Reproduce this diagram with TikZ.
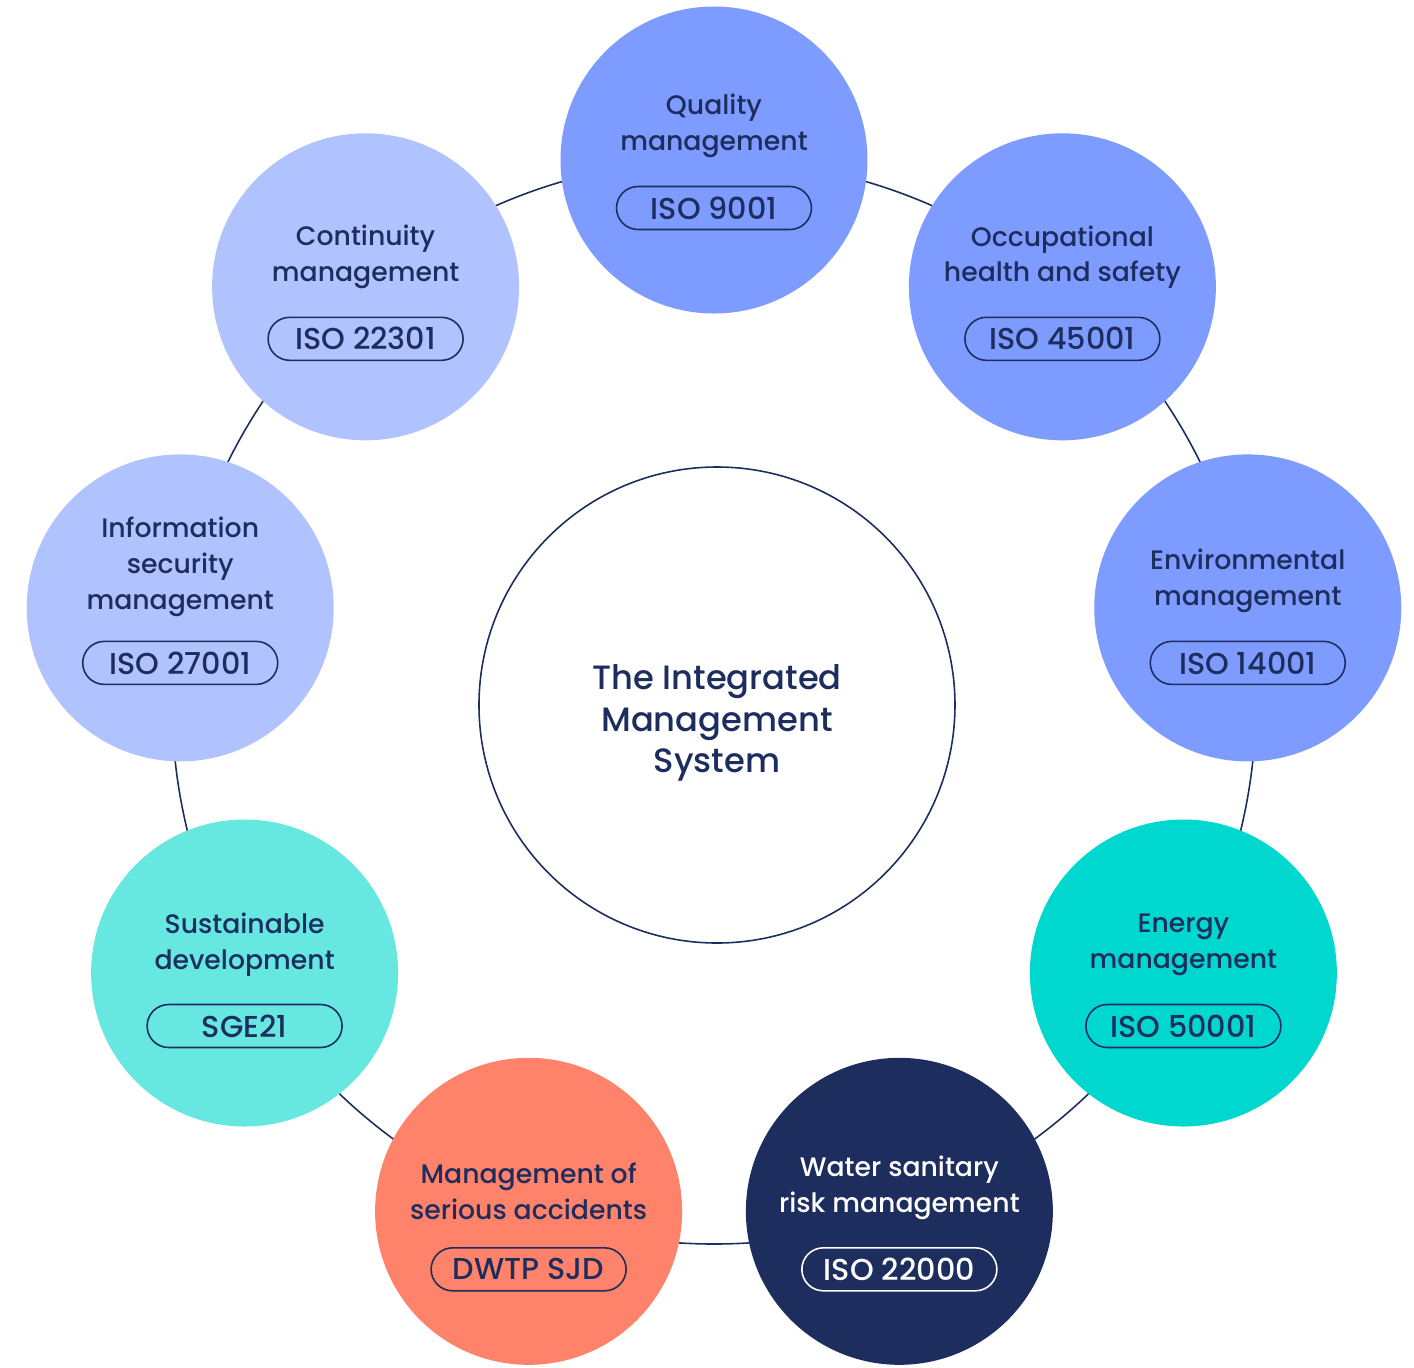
\documentclass[tikz,border=0pt]{standalone}
\usepackage{fontspec}
\setmainfont{Poppins}[UprightFont={* Medium}]
\usetikzlibrary{positioning, backgrounds}
\definecolor{imsnavy}{HTML}{1C2D5E}
\definecolor{imsblue}{HTML}{7E9BFF}
\definecolor{imslight}{HTML}{B0C3FF}
\definecolor{imsteal}{HTML}{00D7CF}
\definecolor{imsaqua}{HTML}{66E7E0}
\definecolor{imscoral}{HTML}{FF826A}
\tikzset{
  imscore/.style  = {circle, draw=imsnavy, line width=0.45pt, fill=white,
                     minimum size=4.76cm, inner sep=0pt},
  imstitle/.style = {align=center, inner sep=0pt, text=imsnavy,
                     font=\fontsize{9.6}{11.9}\selectfont},
  imsstd/.style   = {circle, minimum size=3.07cm, inner sep=0pt},
  imstxt/.style   = {align=center, inner sep=0pt,
                     font=\fontsize{7.6}{10.2}\selectfont},
  imspill/.style  = {rounded corners=2.15mm, line width=0.45pt,
                     minimum width=1.95cm, minimum height=0.43cm, inner sep=0pt,
                     font=\fontsize{8.6}{10}\selectfont},
  imsring/.style  = {draw=imsnavy, line width=0.45pt},
}
\begin{document}
\begin{tikzpicture}
  \useasboundingbox (-7.17,-6.62) rectangle (6.97,7.05);
  \coordinate (hub) at (-0.03,0.03);
  \node[imscore] (sys) at (0,0) {};
  \node[imstitle] (sys-t) at ([yshift=-1.8mm]sys.center) {The Integrated\\Management\\System};
  % name / angle / fill / ink / title / standard / pill drop / text gap
  \foreach \nm/\ang/\col/\ink/\title/\code/\py/\gap in {
      qual/90/imsblue/imsnavy/{Quality\\management}/{ISO 9001}/4.8/2.7,
      ohs/50/imsblue/imsnavy/{Occupational\\health and safety}/{ISO 45001}/5.2/2.7,
      env/10/imsblue/imsnavy/{Environmental\\management}/{ISO 14001}/5.5/2.7,
      nrg/-30/imsteal/imsnavy/{Energy\\management}/{ISO 50001}/5.3/2.7,
      wat/-70/imsnavy/white/{Water sanitary\\risk management}/{ISO 22000}/5.8/2.7,
      acc/-110/imscoral/imsnavy/{Management of\\serious accidents}/{DWTP SJD}/5.8/2.7,
      sus/-150/imsaqua/imsnavy/{Sustainable\\development}/{SGE21}/5.3/2.7,
      inf/170/imslight/imsnavy/{Information\\security\\management}/{ISO 27001}/5.5/2.3,
      cont/130/imslight/imsnavy/{Continuity\\management}/{ISO 22301}/5.2/2.7} {
    \node[imsstd, fill=\col] (\nm) at ([shift={(\ang:5.42)}]hub) {};
    \node[imspill, draw=\ink, text=\ink] (\nm-p) at ([yshift=-\py mm]\nm.center) {\code};
    \node[imstxt, text=\ink, above=\gap mm of \nm-p] (\nm-t) {\title};
  }
  % ring behind the circles
  \begin{scope}[on background layer]
    \draw[imsring] (hub) circle[radius=5.42];
  \end{scope}
\end{tikzpicture}
\end{document}
